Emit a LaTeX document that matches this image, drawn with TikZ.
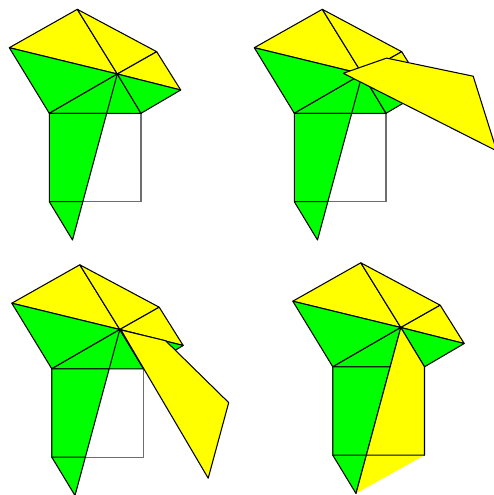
\documentclass[tikz,border=0pt]{standalone}
\usetikzlibrary{positioning}
\definecolor{leafgreen}{RGB}{0,255,0}
\definecolor{leafyellow}{RGB}{255,255,0}
\definecolor{sqgray}{RGB}{110,110,110}
\tikzset{yel/.style = {fill=leafyellow, draw=black, line join=round}}
\tikzset{grn/.style = {fill=leafgreen, draw=black, line join=round}}
\tikzset{sqedge/.style = {draw=sqgray}}
\tikzset{every picture/.style={
    line width=0.6pt,
}}
\begin{document}
\begin{tikzpicture}[x=0.02cm, y=-0.02cm]
      \useasboundingbox (0,0) rectangle (494,495);
      \clip (0,0) rectangle (494,495);
      % the same figure four times, one per panel
      \foreach \dx/\dy/\p in {0/0/a, 245/0/b, 2.5/255.5/c, 283.5/253.5/d} {
        \begin{scope}[shift={(\dx,\dy)}]
          \coordinate (\p-T) at (77.3,9.3);
          \coordinate (\p-L) at (9.3,47.7);
          \coordinate (\p-R1) at (156.7,51.7);
          \coordinate (\p-R2) at (180.7,90);
          \coordinate (\p-C) at (117.3,74);
          \coordinate (\p-SL) at (49.3,113.3);
          \coordinate (\p-SR) at (141,113.3);
          \coordinate (\p-SBL) at (49.3,201.7);
          \coordinate (\p-SBR) at (141,201.7);
          \coordinate (\p-Tip) at (72.5,240);
          \coordinate (\p-P) at (intersection of \p-C--\p-Tip and \p-SL--\p-SR);
          \coordinate (\p-Q) at (intersection of \p-C--\p-Tip and \p-SBL--\p-SBR);
          \draw[sqedge] (\p-SL) rectangle (\p-SBR);
          \draw[yel] (\p-L) -- (\p-T) -- (\p-C) -- cycle;
          \draw[yel] (\p-T) -- (\p-R1) -- (\p-C) -- cycle;
          \draw[yel] (\p-R1) -- (\p-R2) -- (\p-C) -- cycle;
          \draw[grn] (\p-L) -- (\p-C) -- (\p-SL) -- cycle;
          \draw[grn] (\p-SL) -- (\p-C) -- (\p-SR) -- cycle;
          \draw[grn] (\p-C) -- (\p-R2) -- (\p-SR) -- cycle;
          \draw[grn] (\p-SL) -- (\p-P) -- (\p-Q) -- (\p-Tip) -- (\p-SBL) -- cycle;
          \draw (\p-SBL) -- (\p-Q);
          \draw (\p-C) -- (\p-P);
        \end{scope}
      }
      % moving piece, panel 2
      \coordinate (b-m1) at (343.3,73.3);
      \coordinate (b-m2) at (386.6,58.1);
      \coordinate (b-m3) at (473.2,76.2);
      \coordinate (b-m4) at (496.7,150.9);
      \draw[yel] (b-m1) -- (b-m2) -- (b-m3) -- (b-m4) -- cycle;
      % moving piece, panel 3
      \coordinate (c-m1) at (121,330);
      \coordinate (c-m2) at (165.6,340.7);
      \coordinate (c-m3) at (228.7,402.6);
      \coordinate (c-m4) at (208.2,478.2);
      \draw[yel] (c-m1) -- (c-m2) -- (c-m3) -- (c-m4) -- cycle;
      % piece in place, panel 4
      \fill[leafyellow] (d-C) -- (d-SR) -- (d-SBR) -- (d-Tip) -- cycle;
      \draw[line join=round] (d-Tip) -- (d-C) -- (d-SR) -- (d-SBR) -- (d-Q);
    \end{tikzpicture}
\end{document}
